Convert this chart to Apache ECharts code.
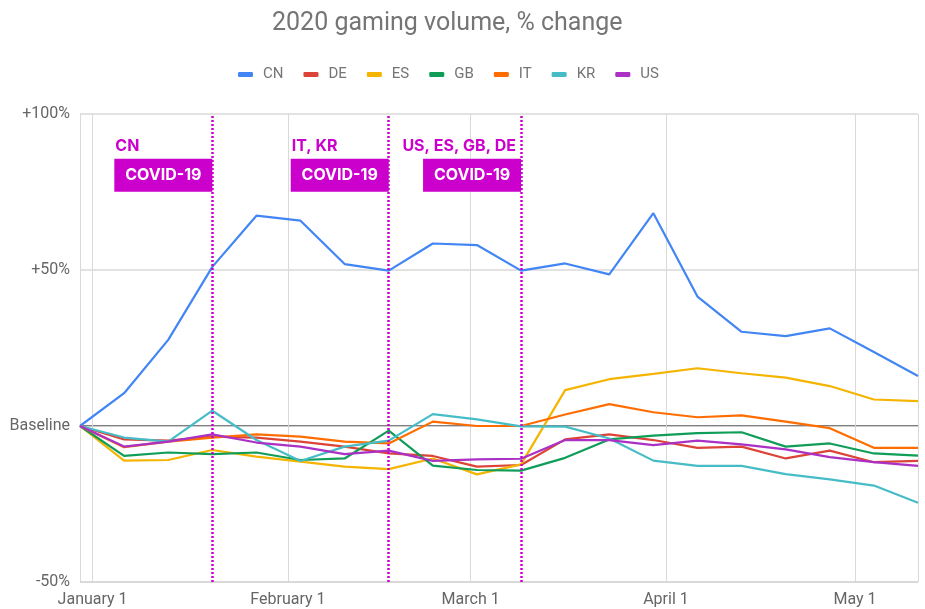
<!DOCTYPE html>
<html>
<head>
<meta charset="utf-8">
<script src="https://cdn.jsdelivr.net/npm/echarts@6/dist/echarts.min.js"></script>
<style>
  html, body { margin: 0; padding: 0; background: #fff; }
  #chart { width: 925px; height: 609px; }
</style>
</head>
<body>
<div id="chart"></div>
<script>
// weekly points, Dec 30 2019 .. May 11 2020
const weeks = [
  "2019-12-30", "2020-01-06", "2020-01-13", "2020-01-20", "2020-01-27",
  "2020-02-03", "2020-02-10", "2020-02-17", "2020-02-24", "2020-03-02",
  "2020-03-09", "2020-03-16", "2020-03-23", "2020-03-30", "2020-04-06",
  "2020-04-13", "2020-04-20", "2020-04-27", "2020-05-04", "2020-05-11"
];

const cn = [0, 10.5, 27.6, 51, 67.4, 65.8, 51.9, 49.8, 58.5, 58, 49.8, 52.1, 48.6, 68.2, 41.5, 30.2, 28.8, 31.3, 23.7, 16];
const de = [0, -4.3, -4.7, -3.4, -3.7, -5, -6.6, -8.8, -9.6, -13, -12.5, -4.3, -2.7, -4.5, -7, -6.6, -10.4, -7.9, -11.6, -11.2];
const es = [0, -11.1, -10.9, -7.7, -9.8, -11.4, -13, -13.8, -10.4, -15.5, -12.3, 11.5, 15, 16.7, 18.5, 16.9, 15.5, 12.8, 8.5, 8];
const gb = [0, -9.6, -8.5, -9, -8.5, -10.9, -10.4, -1.5, -12.7, -14.1, -14.3, -10.2, -4.3, -3.1, -2.3, -2, -6.6, -5.6, -8.8, -9.5];
const it = [0, -6.8, -5, -3.7, -2.7, -3.4, -5, -5.6, 1.4, 0, 0, 3.7, 7, 4.4, 2.8, 3.4, 1.4, -0.7, -7, -7];
const kr = [0, -3.7, -5, 4.9, -4.5, -11.2, -6.6, -4.7, 3.8, 2.1, -0.1, -0.2, -4, -11.1, -12.8, -12.8, -15.4, -17.1, -19.1, -24.6];
const us = [0, -6.6, -5, -2.7, -5.3, -6.6, -9, -7.9, -11.2, -10.7, -10.5, -4.5, -4.5, -6.1, -4.7, -5.9, -7.5, -10, -11.6, -12.8];

const countries = ["CN", "DE", "ES", "GB", "IT", "KR", "US"];
const colors = ["#4285f4", "#db4437", "#f4b400", "#0f9d58", "#ff6d00", "#46bdc6", "#ab30c4"];
const seriesValues = [cn, de, es, gb, it, kr, us];

// covid annotations
const covidDates = ["2020-01-20", "2020-02-17", "2020-03-09"];
const covidLabels = ["CN", "IT, KR", "US, ES, GB, DE"];

const monthNames = ["January", "February", "March", "April", "May", "June",
  "July", "August", "September", "October", "November", "December"];

const magenta = "#cc00cc";
const font = "Roboto";

const chart = echarts.init(document.getElementById("chart"));

let series = countries.map((name, i) => ({
  name: name,
  type: "line",
  data: weeks.map((d, j) => [d, seriesValues[i][j]]),
  symbol: "none",
  lineStyle: { width: 2.2, color: colors[i] },
  itemStyle: { color: colors[i] },
  z: 3,
}));

// annotation marks hang on the first series
let boxes = [];
let tags = [];
covidDates.forEach((d, i) => {
  boxes.push({
    coord: [d, 80.4],
    symbol: "rect",
    symbolSize: [98, 33],
    symbolOffset: [-49, 0],
    itemStyle: { color: magenta },
    label: {
      show: true,
      position: "inside",
      formatter: "COVID-19",
      color: "#fff",
      fontFamily: "Inter",
      fontWeight: "bold",
      fontSize: 16,
    },
  });
  tags.push({
    coord: [d, 89.6],
    symbol: "rect",
    symbolSize: 0,
    label: {
      show: true,
      position: "inside",
      align: i == 2 ? "right" : "left",
      offset: i == 2 ? [-5, 0] : [-97, 0],
      formatter: covidLabels[i],
      color: magenta,
      fontFamily: "Inter",
      fontWeight: "bold",
      fontSize: 16,
    },
  });
});

series[0].markPoint = {
  silent: true,
  animation: false,
  data: boxes.concat(tags),
};
series[0].markLine = {
  silent: true,
  animation: false,
  symbol: "none",
  label: { show: false },
  lineStyle: { color: magenta, type: [2, 2], width: 2.5 },
  data: covidDates.map((d) => ({ xAxis: d })),
};

let options = {
  backgroundColor: "#fff",
  animation: false,
  title: {
    text: "2020 gaming volume, % change",
    left: 267,
    top: 6,
    textStyle: {
      color: "#757575",
      fontFamily: font,
      fontWeight: "normal",
      fontSize: 25,
    },
  },
  legend: {
    top: 62,
    left: 233,
    data: countries,
    icon: "roundRect",
    itemWidth: 15,
    itemHeight: 5,
    itemGap: 20,
    textStyle: {
      color: "#757575",
      fontFamily: font,
      fontSize: 15,
      padding: [0, 0, 0, 5],
    },
  },
  grid: {
    top: 114,
    left: 80,
    right: 7,
    bottom: 27,
  },
  xAxis: {
    type: "time",
    min: "2019-12-30",
    max: "2020-05-11",
    axisLine: { show: true, lineStyle: { color: "#cccccc", width: 1 } },
    axisTick: { show: false },
    axisLabel: {
      color: "#666",
      fontFamily: font,
      fontSize: 16,
      margin: 10,
      hideOverlap: false,
      formatter: (val) => {
        let dt = new Date(val);
        return monthNames[dt.getMonth()] + " " + dt.getDate();
      },
    },
    splitLine: { show: true, lineStyle: { color: "#d9d9d9", width: 1 } },
  },
  yAxis: {
    type: "value",
    min: -50,
    max: 100,
    interval: 50,
    axisLine: { show: false },
    axisTick: { show: false },
    axisLabel: {
      color: "#666",
      fontFamily: font,
      fontSize: 16,
      margin: 10,
      formatter: (v) => (v == 0 ? "Baseline" : (v > 0 ? "+" : "") + v + "%"),
    },
    splitLine: {
      show: true,
      lineStyle: { color: ["#cccccc", "#555555", "#d9d9d9", "#d9d9d9"], width: 1.5 },
    },
  },
  series: series,
};
chart.setOption(options, true);
</script>
</body>
</html>
